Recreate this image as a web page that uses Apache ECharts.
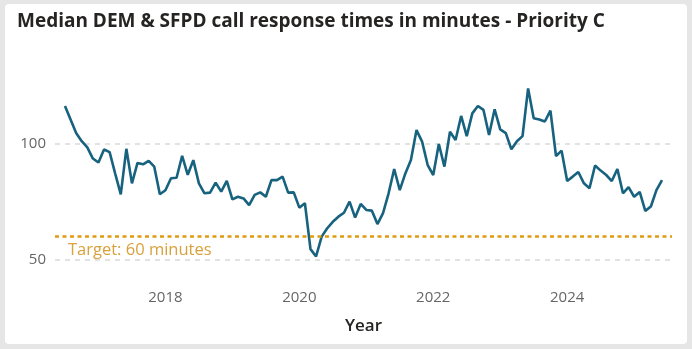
<!DOCTYPE html>
<html>
<head>
<meta charset="utf-8">
<script src="https://cdn.jsdelivr.net/npm/echarts@6/dist/echarts.min.js"></script>
<style>
html,body{margin:0;padding:0;background:#e6e6e6;}
#chart{width:692px;height:349px;}
</style>
</head>
<body>
<div id="chart"></div>
<script>
// Monthly series, first point = July 2016
const startYear = 2016;
const startMonthIndex = 6; // July (0-based)
const responseMinutes = [
  116.2,110.4,104.5,101.0,98.3,93.5,91.8,97.4,96.3,87.0,78.0,97.7,
  82.8,91.6,91.0,92.5,90.0,78.1,79.8,85.0,85.2,94.7,86.5,92.8,
  82.8,78.5,78.8,83.1,79.2,83.9,75.9,77.0,76.3,73.4,77.8,78.9,
  77.0,84.2,84.2,85.7,78.8,78.9,72.3,74.2,54.4,51.2,59.8,63.4,
  66.2,68.4,70.1,74.9,68.0,73.9,71.3,71.0,65.2,69.9,78.5,89.0,
  79.9,87.1,92.9,105.8,100.8,90.7,86.4,99.8,90.0,105.1,101.5,111.9,
  103.2,113.0,116.2,114.5,103.7,114.8,106.1,104.5,97.5,101.0,103.2,123.8,
  110.9,110.4,109.5,114.2,94.6,96.9,83.8,85.7,87.7,82.8,80.7,90.5,
  88.3,86.4,83.8,89.0,78.5,81.2,77.0,79.1,70.9,72.8,79.9,84.2
];
const xTickYears = [2018, 2020, 2022, 2024];
const yTickValues = [50, 100];
const targetValue = 60;
const targetLabel = 'Target: 60 minutes';
const titleText = 'Median DEM & SFPD call response times in minutes - Priority C';
const xAxisName = 'Year';

// x as decimal year (month start)
const seriesData = responseMinutes.map((v, i) => [startYear + (startMonthIndex + i) / 12, v]);
const firstX = seriesData[0][0];
const lastX = seriesData[seriesData.length - 1][0];
const padYears = 0.149;

const chart = echarts.init(document.getElementById('chart'), null, {renderer: 'canvas'});
const fontFam = "'Segoe UI','Open Sans','Noto Sans',sans-serif";
chart.setOption({
  animation: false,
  backgroundColor: 'transparent',
  graphic: [{
    type: 'rect', z: -10, silent: true,
    shape: {x: 5, y: 4, width: 682, height: 340, r: 4},
    style: {fill: '#ffffff'}
  }],
  title: {
    text: titleText, left: 12, top: 7,
    textStyle: {fontFamily: fontFam, fontSize: 19, fontWeight: 'bold', color: '#252423'}
  },
  grid: {left: 55, right: 20, top: 85.6, bottom: 89.7},
  xAxis: {
    type: 'value',
    min: firstX - padYears,
    max: lastX + padYears,
    name: xAxisName,
    nameLocation: 'middle',
    nameGap: 58,
    nameTextStyle: {fontFamily: fontFam, fontSize: 17, fontWeight: 600, color: '#252423'},
    axisLine: {show: false},
    axisTick: {show: false},
    splitLine: {show: false},
    axisLabel: {
      customValues: xTickYears,
      formatter: (v) => String(Math.round(v)),
      fontFamily: fontFam, fontSize: 15, color: '#666666', margin: 31
    }
  },
  yAxis: {
    type: 'value',
    min: 50, max: 125, interval: 50,
    axisLine: {show: false},
    axisTick: {show: false},
    axisLabel: {
      showMaxLabel: false,
      formatter: (v) => yTickValues.includes(v) ? String(v) : '',
      fontFamily: fontFam, fontSize: 15, color: '#666666', margin: 9
    },
    splitLine: {
      show: true, showMaxLine: false,
      lineStyle: {color: '#D9D9D9', type: [5, 5], width: 1.5}
    }
  },
  series: [{
    type: 'line',
    data: seriesData,
    symbol: 'none',
    lineStyle: {color: '#17627F', width: 2.6},
    markLine: {
      silent: true,
      symbol: 'none',
      data: [{yAxis: targetValue}],
      lineStyle: {color: '#E09B10', type: [4, 3.5], width: 2.5},
      label: {
        show: true, position: 'insideStartBottom', formatter: targetLabel,
        fontFamily: fontFam, fontSize: 16.5, color: '#D9A13B', distance: [13, 6]
      }
    }
  }]
});
</script>
</body>
</html>
